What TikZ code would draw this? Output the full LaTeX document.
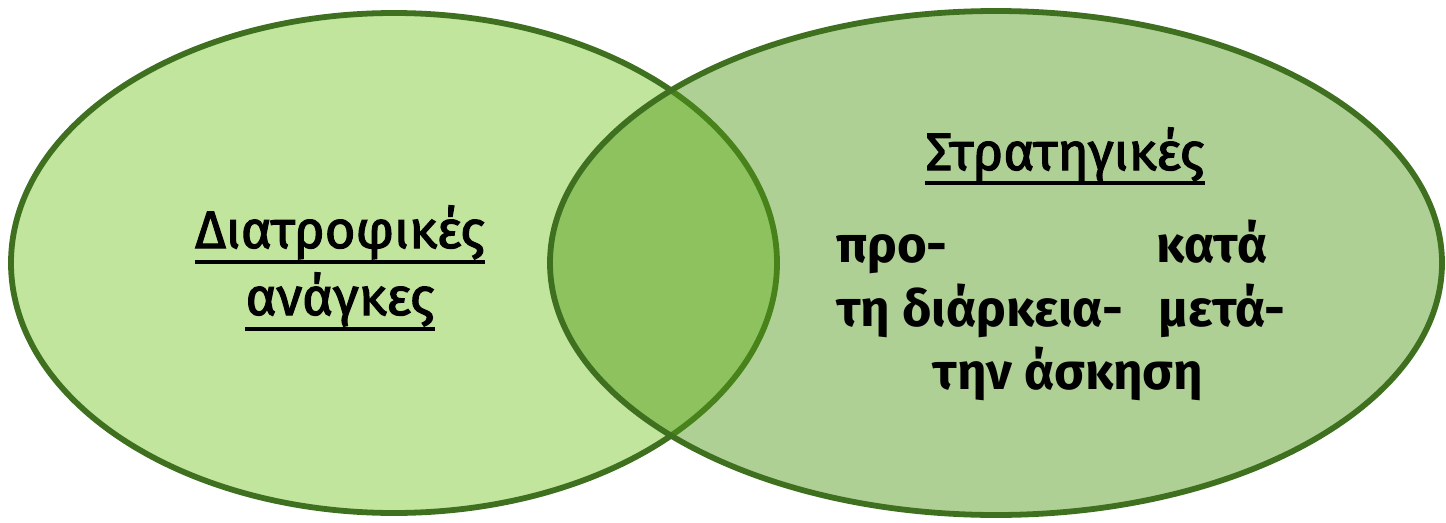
\documentclass[tikz,border=0pt]{standalone}
\usepackage{fontspec}
\setmainfont{Fira Sans}
\newfontfamily\labelfont{Fira Sans}[FakeBold=2.2]
\usetikzlibrary{positioning, shapes.geometric}
\usepackage{xcolor}

\definecolor{rimgreen}{RGB}{63,112,32}
\definecolor{needsfill}{RGB}{193,229,157}
\definecolor{stratfill}{RGB}{81,153,22}

\tikzset{
  circlebox/.style={draw=rimgreen, ellipse, line width=3.3pt, inner sep=0pt},
  label/.style={inner sep=0pt, font=\labelfont\fontsize{30}{36}\selectfont},
  phase/.style={inner sep=0pt, font=\fontsize{29}{36}\selectfont\bfseries},
  uline/.style={line width=2.2pt}
}

\begin{document}
\begin{tikzpicture}
  \useasboundingbox (0,0) rectangle (28.92,10.44);

  % the two sets
  \node[circlebox, fill=needsfill, minimum width=15.32cm, minimum height=10cm] (needs) at (7.88,5.18) {};
  \node[circlebox, fill=stratfill, fill opacity=0.46, minimum width=17.84cm, minimum height=10.08cm] (strat) at (19.92,5.18) {};

  % left set
  \node[label, anchor=base] (needsA) at (6.8,5.48) {Διατροφικές};
  \node[label, anchor=base] (needsB) at (6.8,4.14) {ανάγκες};
  \draw[uline] ([yshift=-0.28cm]needsA.base west) -- ([yshift=-0.28cm]needsA.base east);
  \draw[uline] ([yshift=-0.28cm]needsB.base west) -- ([yshift=-0.28cm]needsB.base east);

  % right set
  \node[label, anchor=base] (title) at (21.3,7.04) {Στρατηγικές};
  \draw[uline] ([yshift=-0.26cm]title.base west) -- ([yshift=-0.26cm]title.base east);
  \node[phase, anchor=base west] (pre) at (16.72,5.2) {προ-};
  \node[phase, anchor=base east] (during) at (25.36,5.2) {κατά};
  \node[phase, anchor=base west] (span) at (16.72,3.92) {τη διάρκεια-};
  \node[phase, anchor=base east] (post) at (25.72,3.92) {μετά-};
  \node[phase, anchor=base] (exercise) at (21.36,2.66) {την άσκηση};
\end{tikzpicture}
\end{document}
